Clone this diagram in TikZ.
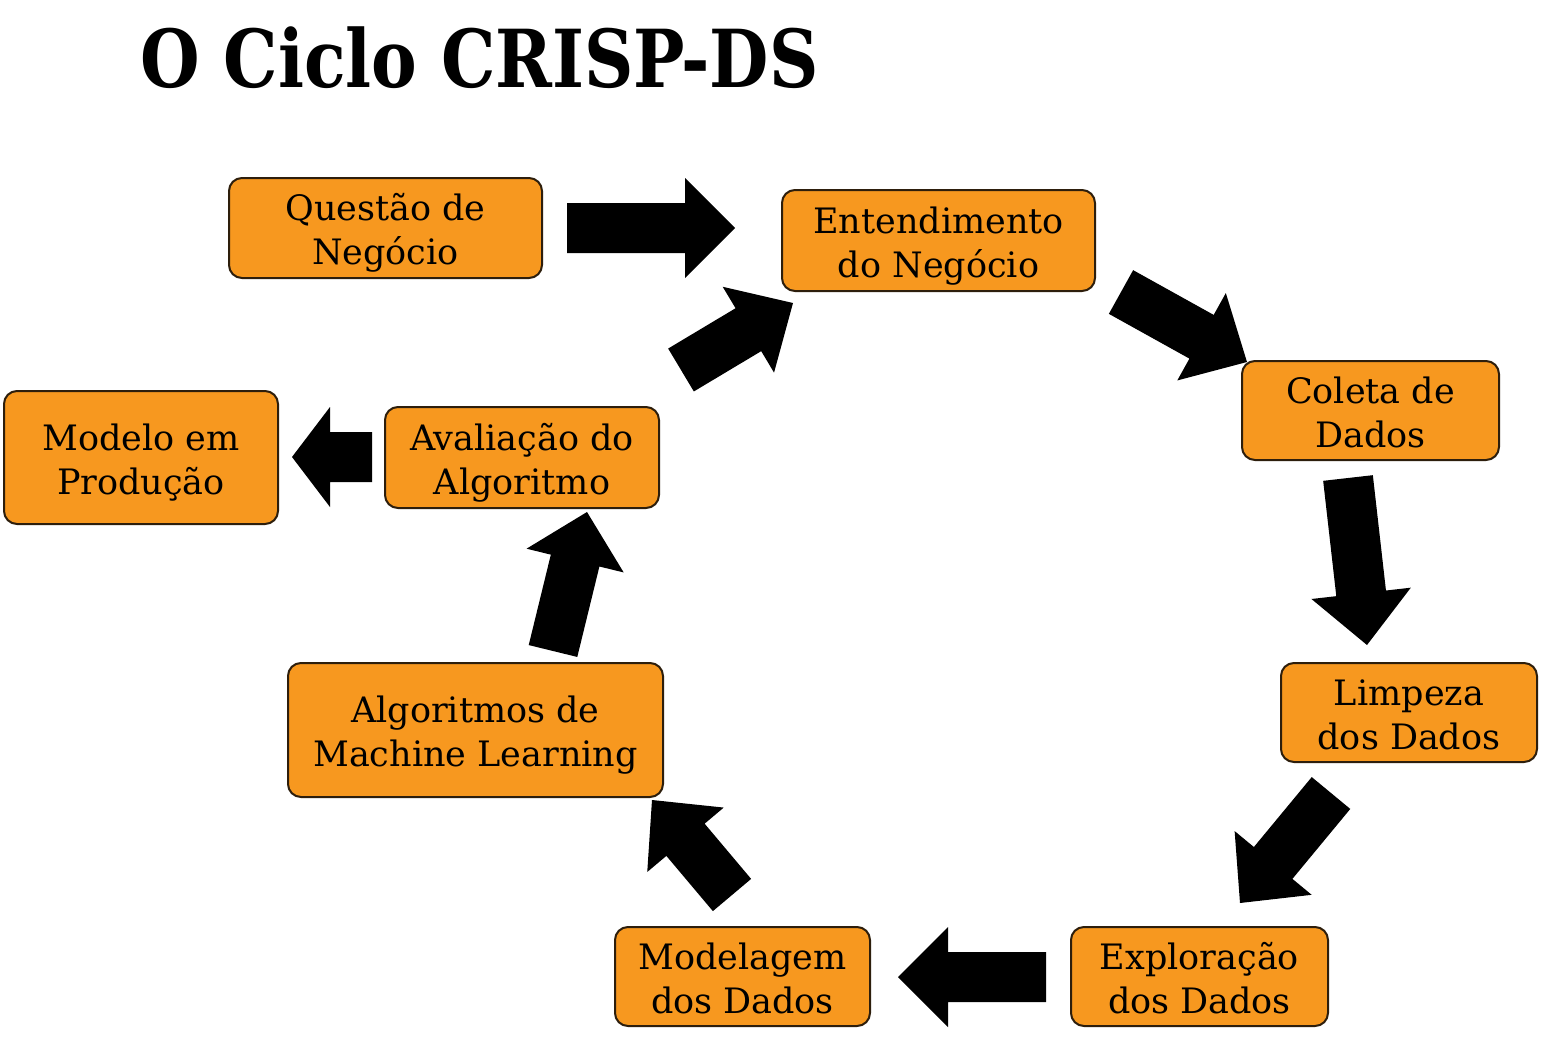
\documentclass[tikz,border=0pt]{standalone}
\usepackage{fontspec}
\setmainfont{DejaVu Serif}
\newfontfamily\titlefont[FakeStretch=0.855]{DejaVu Serif Bold}
\usetikzlibrary{calc}
\definecolor{boxorange}{RGB}{247,152,31}
\definecolor{boxline}{RGB}{45,30,12}
\tikzset{
  stagebox/.style={draw=boxline, line width=2pt, fill=boxorange, rounded corners=13pt,
    align=center, inner sep=0pt, font=\fontsize{35}{44}\selectfont},
  blockarrowfill/.style={fill=black, draw=none}
}
\newcommand{\twolines}[2]{\rule{0pt}{39pt}#1\\#2\rule[-10pt]{0pt}{10pt}}
% #1 tail, #2 tip, #3 head length
\newcommand{\fatarrow}[3]{%
  \fill[blockarrowfill]
    ($(#1)!25pt!90:(#2)$) --
    ($($(#2)!#3!(#1)$)!25pt!-90:(#1)$) --
    ($($(#2)!#3!(#1)$)!50pt!-90:(#1)$) --
    (#2) --
    ($($(#2)!#3!(#1)$)!50pt!90:(#1)$) --
    ($($(#2)!#3!(#1)$)!25pt!90:(#1)$) --
    ($(#1)!25pt!-90:(#2)$) -- cycle;
}
\begin{document}
\begin{tikzpicture}[x=1pt,y=-1pt]
\useasboundingbox (0,0) rectangle (1543,1058);
\fill[white] (0,0) rectangle (1543,1058);

\node[anchor=base west, inner sep=0pt, font=\titlefont\fontsize{80}{90}\selectfont] (title) at (140,87) {O Ciclo CRISP-DS};

\node[stagebox, minimum width=313pt, minimum height=100pt] (q) at (385.5,228) {\twolines{Questão de}{Negócio}};
\node[stagebox, minimum width=313pt, minimum height=101pt] (e) at (938.5,240.5) {\twolines{Entendimento}{do Negócio}};
\node[stagebox, minimum width=257pt, minimum height=99pt] (c) at (1370.5,410.5) {\twolines{Coleta de}{Dados}};
\node[stagebox, minimum width=256pt, minimum height=99pt] (l) at (1409,712.5) {\twolines{Limpeza}{dos Dados}};
\node[stagebox, minimum width=257pt, minimum height=99pt] (x) at (1199.5,976.5) {\twolines{Exploração}{dos Dados}};
\node[stagebox, minimum width=255pt, minimum height=99pt] (m) at (742.5,976.5) {\twolines{Modelagem}{dos Dados}};
\node[stagebox, minimum width=375pt, minimum height=134pt] (ml) at (475.5,730) {\twolines{Algoritmos de}{Machine Learning}};
\node[stagebox, minimum width=274pt, minimum height=101pt] (a) at (522,457.5) {\twolines{Avaliação do}{Algoritmo}};
\node[stagebox, minimum width=274pt, minimum height=133pt] (p) at (141,457.5) {\twolines{Modelo em}{Produção}};

\coordinate (a1s) at (567,228);  \coordinate (a1e) at (735,228);
\coordinate (a2s) at (1121,292); \coordinate (a2e) at (1247,362);
\coordinate (a3s) at (1348,478); \coordinate (a3e) at (1367,645);
\coordinate (a4s) at (1331,793); \coordinate (a4e) at (1240,903);
\coordinate (a5s) at (1046,977); \coordinate (a5e) at (898,977);
\coordinate (a6s) at (732,895);  \coordinate (a6e) at (652,800);
\coordinate (a7s) at (553,651);  \coordinate (a7e) at (587,512);
\coordinate (a8s) at (681,370);  \coordinate (a8e) at (793,303);
\coordinate (a9s) at (372,457);  \coordinate (a9e) at (292,457);

\fatarrow{a1s}{a1e}{50pt}
\fatarrow{a2s}{a2e}{52pt}
\fatarrow{a3s}{a3e}{52pt}
\fatarrow{a4s}{a4e}{52pt}
\fatarrow{a5s}{a5e}{50pt}
\fatarrow{a6s}{a6e}{52pt}
\fatarrow{a7s}{a7e}{50pt}
\fatarrow{a8s}{a8e}{52pt}
\fatarrow{a9s}{a9e}{38pt}
\end{tikzpicture}
\end{document}
